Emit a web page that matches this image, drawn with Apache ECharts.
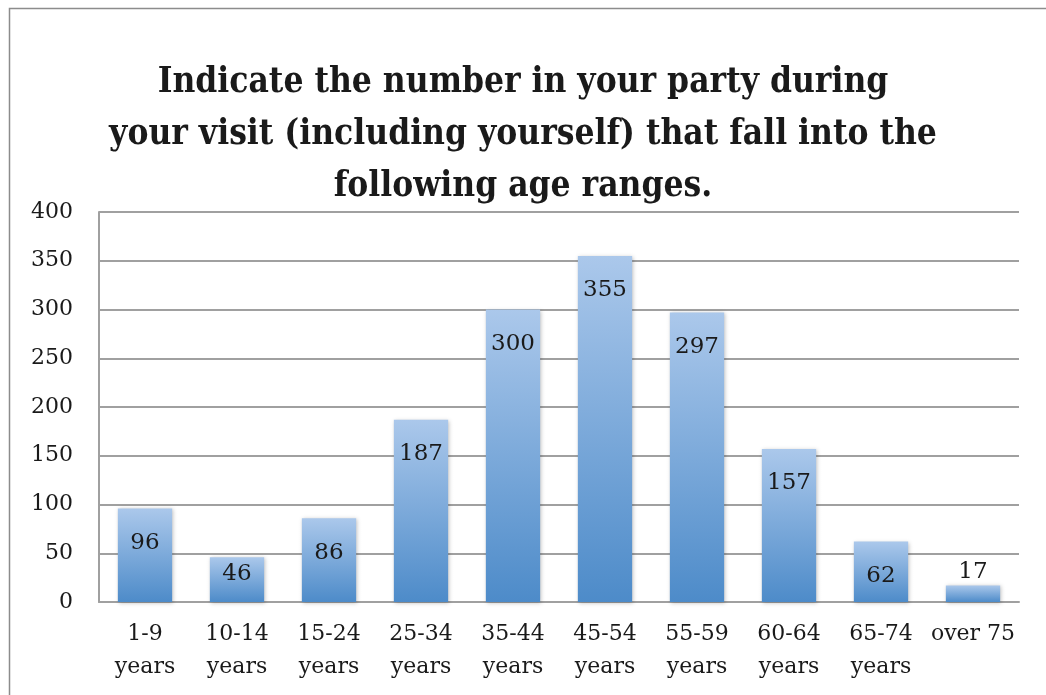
<!DOCTYPE html>
<html>
<head>
<meta charset="utf-8">
<script src="https://cdn.jsdelivr.net/npm/echarts@6/dist/echarts.min.js"></script>
<style>
  html, body { margin: 0; padding: 0; background: #fff; }
  #chart { width: 1046px; height: 695px; }
</style>
</head>
<body>
<div id="chart"></div>
<script>
// age ranges and counts
var categories = ['1-9\nyears', '10-14\nyears', '15-24\nyears', '25-34\nyears', '35-44\nyears',
  '45-54\nyears', '55-59\nyears', '60-64\nyears', '65-74\nyears', 'over 75']
var counts = [96, 46, 86, 187, 300, 355, 297, 157, 62, 17]
var titleText = 'Indicate the number in your party during\nyour visit (including yourself) that fall into the\nfollowing age ranges.'

var chart = echarts.init(document.getElementById('chart'))

var barData = counts.map(function (v) {
  var item = { value: v }
  // short bars: Excel shifts the label
  if (v < 30) {
    item.label = { position: 'top', distance: 2 }
  } else if (v < 60) {
    item.label = { distance: 5 }
  }
  return item
})

var option = {
  backgroundColor: '#fff',
  animation: false,
  textStyle: { fontFamily: 'DejaVu Serif' },
  title: {
    text: titleText,
    left: 'center',
    top: 52,
    textStyle: {
      fontFamily: 'DejaVu Serif Condensed',
      fontWeight: 'bold',
      fontSize: 35,
      lineHeight: 52,
      color: '#1a1a1a'
    }
  },
  graphic: [{
    type: 'rect',
    shape: { x: 9.5, y: 8.5, width: 1100, height: 800 },
    style: { fill: 'none', stroke: '#8c8c8c', lineWidth: 1.5 },
    silent: true
  }],
  grid: {
    left: 99,
    right: 27,
    top: 212,
    bottom: 93
  },
  xAxis: {
    type: 'category',
    data: categories,
    axisTick: { show: false },
    axisLine: { lineStyle: { color: '#a0a0a0', width: 2 } },
    axisLabel: {
      color: '#1a1a1a',
      fontSize: 22,
      lineHeight: 33,
      margin: 16,
      interval: 0
    }
  },
  yAxis: {
    type: 'value',
    min: 0,
    max: 400,
    interval: 50,
    axisLine: { show: true, lineStyle: { color: '#a0a0a0', width: 2 } },
    axisTick: { show: false },
    splitLine: { lineStyle: { color: '#a0a0a0', width: 2 } },
    axisLabel: {
      color: '#1a1a1a',
      fontSize: 22,
      margin: 26
    }
  },
  series: [{
    name: 'count',
    type: 'bar',
    data: barData,
    barCategoryGap: '41%',
    itemStyle: {
      color: new echarts.graphic.LinearGradient(0, 0, 0, 1, [
        { offset: 0, color: '#abc8eb' },
        { offset: 1, color: '#4d8bc9' }
      ]),
      shadowColor: 'rgba(0,0,0,0.25)',
      shadowBlur: 4,
      shadowOffsetX: 1,
      shadowOffsetY: 1
    },
    label: {
      show: true,
      position: 'insideTop',
      distance: 23,
      color: '#1a1a1a',
      fontSize: 23
    }
  }]
}

chart.setOption(option)
</script>
</body>
</html>
